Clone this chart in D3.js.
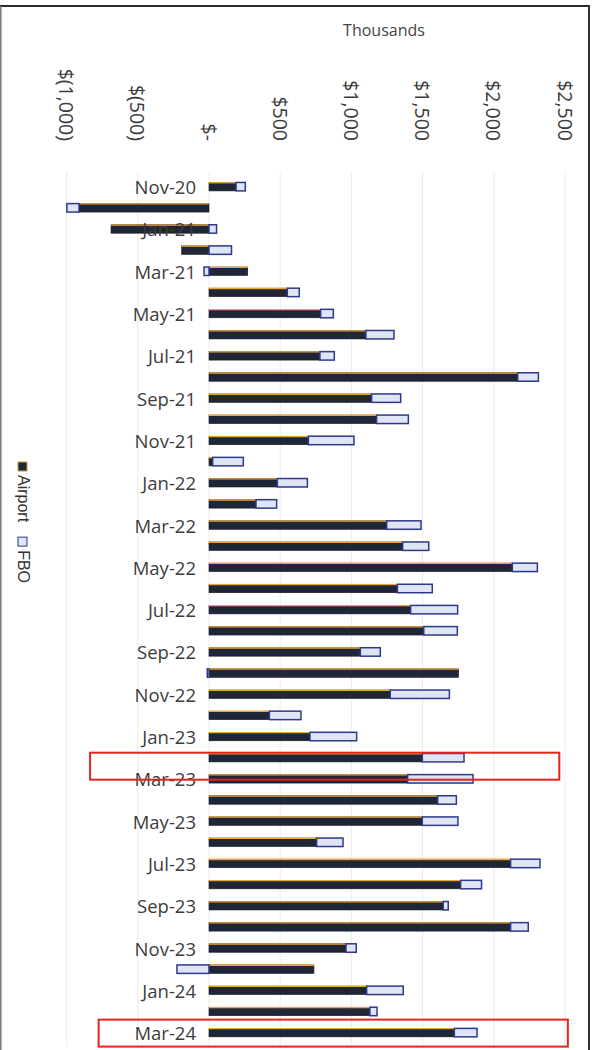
<!DOCTYPE html>
<html>
<head>
<meta charset="utf-8">
<script src="https://cdn.jsdelivr.net/npm/d3@7"></script>
<style>
  html, body { margin: 0; padding: 0; background: #fff; }
  svg { display: block; }
</style>
</head>
<body>
<div id="chart"></div>
<script>
// ---- data ----
const months = ["Nov-20","Dec-20","Jan-21","Feb-21","Mar-21","Apr-21","May-21","Jun-21","Jul-21","Aug-21",
  "Sep-21","Oct-21","Nov-21","Dec-21","Jan-22","Feb-22","Mar-22","Apr-22","May-22","Jun-22",
  "Jul-22","Aug-22","Sep-22","Oct-22","Nov-22","Dec-22","Jan-23","Feb-23","Mar-23","Apr-23",
  "May-23","Jun-23","Jul-23","Aug-23","Sep-23","Oct-23","Nov-23","Dec-23","Jan-24","Feb-24","Mar-24"];
// values in thousands of dollars
const airport = [190,-913,-688,-192,272,550,784,1102,779,2168,
  1142,1177,698,26,480,330,1248,1360,2130,1323,
  1416,1508,1063,1753,1273,424,709,1498,1395,1606,
  1498,756,2118,1767,1645,2118,962,737,1107,1130,1723];
const fbo = [65,-85,53,158,-35,84,89,197,101,145,
  204,223,320,215,211,145,241,183,176,245,
  330,236,140,-12,415,222,328,293,459,131,
  250,185,206,147,35,124,72,-225,257,50,159];
const seriesNames = ["Airport","FBO"];
const tickValues = [-1000,-500,0,500,1000,1500,2000,2500];
const axisTitle = "Thousands";
const highlighted = [
  {month:"Feb-23", from:-835, to:2460},
  {month:"Mar-24", from:-775, to:2520}
];

// ---- layout ----
const W = 593, H = 1050;
const svg = d3.select("#chart").append("svg").attr("width", W).attr("height", H);

const x = d3.scaleLinear().domain([0, 2500]).range([209, 565]);
const y = d3.scaleBand().domain(months).range([176.1, 1043.2]).paddingInner(0.6).paddingOuter(0.3);

const rows = months.map((m, i) => ({month: m, Airport: airport[i], FBO: fbo[i]}));
const stacked = d3.stack().keys(seriesNames).offset(d3.stackOffsetDiverging)(rows);

// frame
svg.append("line").attr("x1", 0).attr("x2", 590).attr("y1", 6).attr("y2", 6)
  .attr("stroke", "#2a2a2a").attr("stroke-width", 2);
svg.append("line").attr("x1", 589).attr("x2", 589).attr("y1", 5).attr("y2", H)
  .attr("stroke", "#333").attr("stroke-width", 2);
svg.append("line").attr("x1", 0.8).attr("x2", 0.8).attr("y1", 6).attr("y2", H)
  .attr("stroke", "#777").attr("stroke-width", 1.5);

// gridlines
svg.append("g").selectAll("line").data(tickValues).join("line")
  .attr("x1", d => x(d)).attr("x2", d => x(d))
  .attr("y1", 172).attr("y2", 1046)
  .attr("stroke", "#ececec").attr("stroke-width", 1);

// tick labels (rotated)
const fmt = d3.format(",");
const tickLabel = v => v === 0 ? "$-" : (v < 0 ? "$(" + fmt(-v) + ")" : "$" + fmt(v));
svg.append("g").selectAll("text").data(tickValues).join("text")
  .attr("transform", d => `translate(${x(d)},141) rotate(90)`)
  .attr("text-anchor", "end")
  .attr("dominant-baseline", "central")
  .attr("font-family", "'Open Sans', sans-serif")
  .attr("font-size", 19.5)
  .attr("fill", "#3c3c3c")
  .text(tickLabel);

svg.append("text").attr("x", 384).attr("y", 36)
  .attr("text-anchor", "middle")
  .attr("font-family", "'Open Sans', sans-serif")
  .attr("font-size", 16)
  .attr("fill", "#444")
  .text(axisTitle);

// bars
const colors = {Airport: "#1f2637", FBO: "#dfe5f5"};
const strokes = {Airport: "#141820", FBO: "#2b3a8a"};
const g = svg.append("g");
stacked.forEach(s => {
  const key = s.key;
  const grp = g.append("g");
  grp.selectAll("rect").data(s).join("rect")
    .attr("x", d => x(Math.min(d[0], d[1])))
    .attr("width", d => Math.abs(x(d[1]) - x(d[0])))
    .attr("y", d => y(d.data.month))
    .attr("height", y.bandwidth())
    .attr("fill", colors[key])
    .attr("stroke", strokes[key])
    .attr("stroke-width", key === "FBO" ? 1.5 : 0.6);
  if (key === "Airport") {
    grp.selectAll("line").data(s).join("line")
      .attr("x1", d => x(Math.min(d[0], d[1])))
      .attr("x2", d => x(Math.max(d[0], d[1])))
      .attr("y1", d => y(d.data.month) + 0.3)
      .attr("y2", d => y(d.data.month) + 0.3)
      .attr("stroke", "#f0a436").attr("stroke-width", 1.3);
  }
});

// category labels (every other month)
svg.append("g").selectAll("text").data(months.filter((m, i) => i % 2 === 0)).join("text")
  .attr("x", 196)
  .attr("y", d => y(d) + y.bandwidth() / 2)
  .attr("text-anchor", "end")
  .attr("dominant-baseline", "central")
  .attr("font-family", "'Open Sans', sans-serif")
  .attr("font-size", 18.5)
  .attr("fill", "#3c3c3c")
  .text(d => d);

// legend (rotated)
const leg = svg.append("g").attr("transform", "translate(27,462) rotate(90)");
let off = 0;
seriesNames.forEach(name => {
  leg.append("rect").attr("x", off).attr("y", 0).attr("width", 9).attr("height", 9)
    .attr("fill", colors[name]).attr("stroke", name === "FBO" ? strokes[name] : "#c9a030")
    .attr("stroke-width", 1);
  const t = leg.append("text").attr("x", off + 13).attr("y", 9.5)
    .attr("font-family", "'Liberation Sans', Arial, sans-serif")
    .attr("font-size", 16).attr("fill", "#333").text(name);
  off += 13 + t.node().getComputedTextLength() + 15;
});

// highlight boxes
svg.append("g").selectAll("rect").data(highlighted).join("rect")
  .attr("x", d => x(d.from))
  .attr("width", d => x(d.to) - x(d.from))
  .attr("y", d => y(d.month) + y.bandwidth() / 2 - 13 + (d.month === "Feb-23" ? 8 : 0))
  .attr("height", 27)
  .attr("fill", "none")
  .attr("stroke", "#e3261c")
  .attr("stroke-width", 2);
</script>
</body>
</html>
